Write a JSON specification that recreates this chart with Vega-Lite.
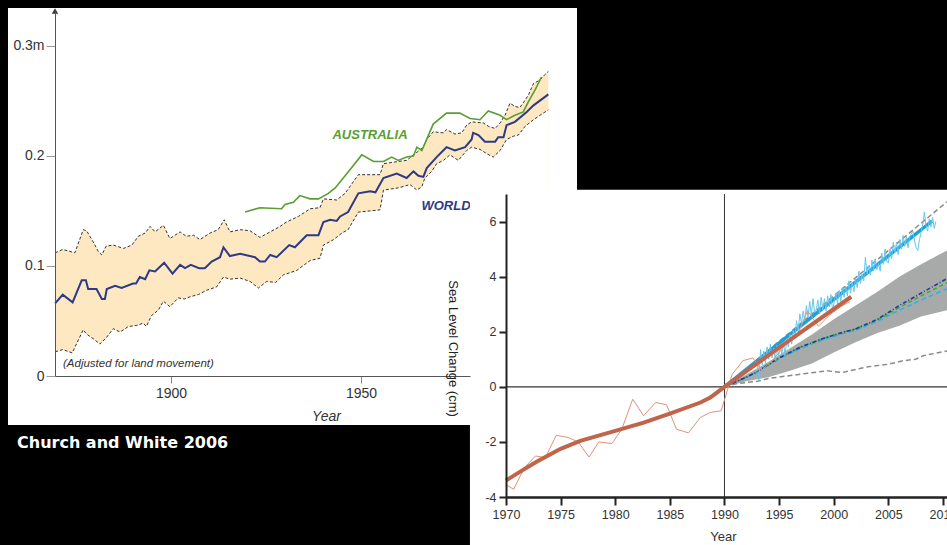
{
  "$schema": "https://vega.github.io/schema/vega-lite/v6.json",
  "width": 947,
  "height": 545,
  "autosize": "none",
  "padding": 0,
  "background": "#000000",
  "config": {"view": {"stroke": null}, "axis": {"zindex": 1, "grid": false, "labelFlush": false}},
  "title": {"text": "Church and White 2006", "orient": "bottom", "anchor": "start", "frame": "group", "offset": -101, "dx": 17, "baseline": "alphabetic", "color": "#ffffff", "font": "DejaVu Sans", "fontSize": 16, "fontWeight": "bold"},
  "resolve": {"scale": {"x": "independent", "y": "independent"}, "axis": {"x": "independent", "y": "independent"}},
  "datasets": {
    "world": [
      {"year": 1869.5, "value": 0.066}, {"year": 1871.5, "value": 0.074}, {"year": 1874.1, "value": 0.067}, {"year": 1876.5, "value": 0.087},
      {"year": 1877.6, "value": 0.087}, {"year": 1878.2, "value": 0.079}, {"year": 1880.4, "value": 0.079}, {"year": 1881.8, "value": 0.070},
      {"year": 1882.6, "value": 0.070}, {"year": 1883.1, "value": 0.079}, {"year": 1885.3, "value": 0.082}, {"year": 1887.0, "value": 0.080},
      {"year": 1890.0, "value": 0.084}, {"year": 1890.8, "value": 0.084}, {"year": 1891.8, "value": 0.090}, {"year": 1893.2, "value": 0.088},
      {"year": 1894.3, "value": 0.096}, {"year": 1895.8, "value": 0.095}, {"year": 1898.2, "value": 0.103}, {"year": 1900.4, "value": 0.093},
      {"year": 1902.4, "value": 0.101}, {"year": 1903.7, "value": 0.098}, {"year": 1905.2, "value": 0.101}, {"year": 1907.4, "value": 0.098},
      {"year": 1908.9, "value": 0.098}, {"year": 1910.7, "value": 0.104}, {"year": 1912.9, "value": 0.108}, {"year": 1913.8, "value": 0.117},
      {"year": 1915.5, "value": 0.109}, {"year": 1918.2, "value": 0.111}, {"year": 1922.1, "value": 0.108}, {"year": 1923.4, "value": 0.104},
      {"year": 1924.7, "value": 0.104}, {"year": 1926.1, "value": 0.110}, {"year": 1927.8, "value": 0.108}, {"year": 1931.1, "value": 0.119},
      {"year": 1932.6, "value": 0.117}, {"year": 1935.7, "value": 0.128}, {"year": 1938.8, "value": 0.128}, {"year": 1940.1, "value": 0.140},
      {"year": 1941.9, "value": 0.142}, {"year": 1943.6, "value": 0.141}, {"year": 1944.5, "value": 0.145}, {"year": 1946.6, "value": 0.149},
      {"year": 1949.3, "value": 0.166}, {"year": 1952.4, "value": 0.168}, {"year": 1953.8, "value": 0.167}, {"year": 1955.9, "value": 0.180},
      {"year": 1959.4, "value": 0.184}, {"year": 1962.0, "value": 0.180}, {"year": 1963.8, "value": 0.186}, {"year": 1965.1, "value": 0.182},
      {"year": 1966.4, "value": 0.181}, {"year": 1967.3, "value": 0.189}, {"year": 1969.9, "value": 0.199}, {"year": 1972.5, "value": 0.208},
      {"year": 1974.7, "value": 0.205}, {"year": 1977.4, "value": 0.208}, {"year": 1979.1, "value": 0.215}, {"year": 1979.5, "value": 0.221},
      {"year": 1980.9, "value": 0.219}, {"year": 1982.6, "value": 0.213}, {"year": 1985.3, "value": 0.213}, {"year": 1986.1, "value": 0.217},
      {"year": 1987.5, "value": 0.217}, {"year": 1988.3, "value": 0.228}, {"year": 1990.5, "value": 0.231}, {"year": 1993.6, "value": 0.240},
      {"year": 1995.4, "value": 0.246}, {"year": 1999.3, "value": 0.256}
    ],
    "australia": [
      {"year": 1919.5, "value": 0.149}, {"year": 1923.4, "value": 0.153}, {"year": 1929.1, "value": 0.152}, {"year": 1930.0, "value": 0.156},
      {"year": 1932.2, "value": 0.158}, {"year": 1933.9, "value": 0.164}, {"year": 1936.6, "value": 0.161}, {"year": 1938.8, "value": 0.161},
      {"year": 1941.4, "value": 0.166}, {"year": 1943.2, "value": 0.171}, {"year": 1946.3, "value": 0.184}, {"year": 1950.2, "value": 0.201},
      {"year": 1953.3, "value": 0.195}, {"year": 1955.9, "value": 0.195}, {"year": 1958.1, "value": 0.199}, {"year": 1959.8, "value": 0.196},
      {"year": 1962.0, "value": 0.199}, {"year": 1963.8, "value": 0.200}, {"year": 1964.7, "value": 0.208}, {"year": 1966.0, "value": 0.205},
      {"year": 1969.0, "value": 0.229}, {"year": 1972.5, "value": 0.239}, {"year": 1976.0, "value": 0.239}, {"year": 1978.7, "value": 0.234},
      {"year": 1981.3, "value": 0.233}, {"year": 1983.5, "value": 0.241}, {"year": 1986.6, "value": 0.237}, {"year": 1988.3, "value": 0.233},
      {"year": 1990.5, "value": 0.237}, {"year": 1992.7, "value": 0.240}, {"year": 1994.0, "value": 0.249}, {"year": 1995.8, "value": 0.260},
      {"year": 1997.5, "value": 0.272}
    ],
    "upper": [
      {"year": 1869.5, "value": 0.112}, {"year": 1871.5, "value": 0.115}, {"year": 1874.7, "value": 0.112}, {"year": 1876.9, "value": 0.133},
      {"year": 1877.8, "value": 0.132}, {"year": 1879.5, "value": 0.122}, {"year": 1880.9, "value": 0.113}, {"year": 1881.8, "value": 0.110},
      {"year": 1882.9, "value": 0.118}, {"year": 1884.8, "value": 0.119}, {"year": 1887.5, "value": 0.116}, {"year": 1889.7, "value": 0.119},
      {"year": 1891.4, "value": 0.127}, {"year": 1893.2, "value": 0.130}, {"year": 1894.5, "value": 0.136}, {"year": 1895.8, "value": 0.131},
      {"year": 1898.0, "value": 0.137}, {"year": 1899.7, "value": 0.125}, {"year": 1902.4, "value": 0.131}, {"year": 1904.0, "value": 0.127},
      {"year": 1905.9, "value": 0.128}, {"year": 1907.6, "value": 0.124}, {"year": 1910.3, "value": 0.130}, {"year": 1912.4, "value": 0.133},
      {"year": 1914.0, "value": 0.142}, {"year": 1915.5, "value": 0.131}, {"year": 1918.2, "value": 0.133}, {"year": 1920.8, "value": 0.132},
      {"year": 1923.4, "value": 0.126}, {"year": 1926.1, "value": 0.131}, {"year": 1928.7, "value": 0.136}, {"year": 1930.4, "value": 0.140},
      {"year": 1933.5, "value": 0.145}, {"year": 1936.6, "value": 0.152}, {"year": 1939.2, "value": 0.153}, {"year": 1940.1, "value": 0.161},
      {"year": 1943.6, "value": 0.160}, {"year": 1945.8, "value": 0.166}, {"year": 1949.3, "value": 0.183}, {"year": 1955.0, "value": 0.183},
      {"year": 1955.9, "value": 0.193}, {"year": 1959.8, "value": 0.195}, {"year": 1962.0, "value": 0.196}, {"year": 1964.2, "value": 0.202},
      {"year": 1966.4, "value": 0.208}, {"year": 1967.3, "value": 0.215}, {"year": 1969.0, "value": 0.222}, {"year": 1971.7, "value": 0.221},
      {"year": 1972.5, "value": 0.224}, {"year": 1974.7, "value": 0.220}, {"year": 1976.5, "value": 0.221}, {"year": 1977.8, "value": 0.228},
      {"year": 1979.1, "value": 0.231}, {"year": 1982.2, "value": 0.230}, {"year": 1983.5, "value": 0.227}, {"year": 1985.3, "value": 0.225},
      {"year": 1986.6, "value": 0.230}, {"year": 1987.9, "value": 0.237}, {"year": 1989.2, "value": 0.248}, {"year": 1990.5, "value": 0.245},
      {"year": 1991.8, "value": 0.244}, {"year": 1994.0, "value": 0.255}, {"year": 1995.4, "value": 0.266}, {"year": 1997.1, "value": 0.269},
      {"year": 1998.4, "value": 0.274}, {"year": 1999.3, "value": 0.277}
    ],
    "lower": [
      {"year": 1869.5, "value": 0.022}, {"year": 1871.5, "value": 0.024}, {"year": 1874.0, "value": 0.021}, {"year": 1876.9, "value": 0.042},
      {"year": 1877.8, "value": 0.038}, {"year": 1879.5, "value": 0.034}, {"year": 1881.3, "value": 0.029}, {"year": 1883.0, "value": 0.035},
      {"year": 1884.8, "value": 0.043}, {"year": 1886.6, "value": 0.040}, {"year": 1888.8, "value": 0.045}, {"year": 1891.0, "value": 0.046},
      {"year": 1892.7, "value": 0.048}, {"year": 1893.5, "value": 0.045}, {"year": 1894.9, "value": 0.055}, {"year": 1896.7, "value": 0.060},
      {"year": 1898.0, "value": 0.068}, {"year": 1899.7, "value": 0.063}, {"year": 1901.9, "value": 0.071}, {"year": 1903.5, "value": 0.070},
      {"year": 1905.0, "value": 0.072}, {"year": 1907.2, "value": 0.074}, {"year": 1909.4, "value": 0.078}, {"year": 1912.0, "value": 0.081},
      {"year": 1913.8, "value": 0.090}, {"year": 1915.5, "value": 0.088}, {"year": 1918.2, "value": 0.089}, {"year": 1920.8, "value": 0.086},
      {"year": 1923.0, "value": 0.080}, {"year": 1925.2, "value": 0.086}, {"year": 1927.5, "value": 0.085}, {"year": 1929.6, "value": 0.092},
      {"year": 1933.1, "value": 0.096}, {"year": 1936.6, "value": 0.105}, {"year": 1939.2, "value": 0.107}, {"year": 1940.1, "value": 0.119},
      {"year": 1942.8, "value": 0.124}, {"year": 1945.0, "value": 0.130}, {"year": 1946.6, "value": 0.133}, {"year": 1949.3, "value": 0.149},
      {"year": 1955.0, "value": 0.151}, {"year": 1955.9, "value": 0.169}, {"year": 1959.8, "value": 0.171}, {"year": 1962.9, "value": 0.174},
      {"year": 1964.7, "value": 0.169}, {"year": 1966.0, "value": 0.172}, {"year": 1966.8, "value": 0.180}, {"year": 1968.6, "value": 0.186},
      {"year": 1969.9, "value": 0.193}, {"year": 1971.7, "value": 0.196}, {"year": 1973.4, "value": 0.201}, {"year": 1975.6, "value": 0.196},
      {"year": 1977.8, "value": 0.205}, {"year": 1979.1, "value": 0.208}, {"year": 1981.3, "value": 0.206}, {"year": 1983.1, "value": 0.202},
      {"year": 1984.8, "value": 0.199}, {"year": 1986.6, "value": 0.205}, {"year": 1988.3, "value": 0.215}, {"year": 1990.1, "value": 0.218},
      {"year": 1991.4, "value": 0.219}, {"year": 1993.2, "value": 0.227}, {"year": 1995.4, "value": 0.233}, {"year": 1997.1, "value": 0.237},
      {"year": 1999.3, "value": 0.242}
    ],
    "tideThin": [
      {"year": 1970.0, "cm": -3.55}, {"year": 1970.7, "cm": -3.72}, {"year": 1971.7, "cm": -2.93}, {"year": 1972.7, "cm": -2.51},
      {"year": 1973.6, "cm": -2.57}, {"year": 1974.6, "cm": -1.76}, {"year": 1975.7, "cm": -1.84}, {"year": 1976.6, "cm": -2.0},
      {"year": 1977.6, "cm": -2.55}, {"year": 1978.5, "cm": -2.0}, {"year": 1979.7, "cm": -2.06}, {"year": 1980.6, "cm": -1.54},
      {"year": 1981.6, "cm": -0.45}, {"year": 1982.6, "cm": -1.05}, {"year": 1983.7, "cm": -0.57}, {"year": 1984.7, "cm": -0.65},
      {"year": 1985.6, "cm": -1.54}, {"year": 1986.7, "cm": -1.67}, {"year": 1987.8, "cm": -1.11}, {"year": 1988.7, "cm": -0.93},
      {"year": 1989.7, "cm": -0.87}, {"year": 1990.7, "cm": 0.45}, {"year": 1991.7, "cm": 0.95}, {"year": 1992.6, "cm": 1.05},
      {"year": 1993.4, "cm": 0.6}, {"year": 1994.5, "cm": 1.0}, {"year": 1995.6, "cm": 1.55}, {"year": 1996.7, "cm": 1.9},
      {"year": 1997.6, "cm": 2.76}, {"year": 1998.6, "cm": 2.2}, {"year": 1999.6, "cm": 2.6}, {"year": 2000.6, "cm": 2.9},
      {"year": 2001.5, "cm": 3.1}
    ],
    "tideTrend": [
      {"year": 1970.0, "cm": -3.4}, {"year": 1971.3, "cm": -3.08}, {"year": 1972.8, "cm": -2.72}, {"year": 1975.0, "cm": -2.25},
      {"year": 1976.8, "cm": -1.96}, {"year": 1980.0, "cm": -1.6}, {"year": 1982.6, "cm": -1.3}, {"year": 1985.0, "cm": -0.97},
      {"year": 1987.8, "cm": -0.57}, {"year": 1988.7, "cm": -0.39}, {"year": 1990.0, "cm": 0.0}, {"year": 1995.0, "cm": 1.42},
      {"year": 2001.6, "cm": 3.27}
    ],
    "satTrend": [{"year": 1990.0, "cm": 0.0}, {"year": 2009.0, "cm": 6.02}],
    "satThin": [
      {"year": 1993.0, "cm": 0.9}, {"year": 1993.15, "cm": 0.2}, {"year": 1993.3, "cm": 1.35}, {"year": 1993.45, "cm": 0.8},
      {"year": 1993.6, "cm": 1.3}, {"year": 1993.75, "cm": 0.85}, {"year": 1993.9, "cm": 1.45}, {"year": 1994.05, "cm": 1.0},
      {"year": 1994.2, "cm": 1.55}, {"year": 1994.35, "cm": 1.05}, {"year": 1994.5, "cm": 1.4}, {"year": 1994.65, "cm": 0.95},
      {"year": 1994.8, "cm": 1.5}, {"year": 1994.95, "cm": 1.1}, {"year": 1995.1, "cm": 1.55}, {"year": 1995.25, "cm": 1.15},
      {"year": 1995.4, "cm": 1.6}, {"year": 1995.55, "cm": 1.15}, {"year": 1995.7, "cm": 1.7}, {"year": 1995.85, "cm": 1.45},
      {"year": 1996.0, "cm": 1.9}, {"year": 1996.15, "cm": 1.55}, {"year": 1996.3, "cm": 2.05}, {"year": 1996.45, "cm": 1.75},
      {"year": 1996.6, "cm": 2.4}, {"year": 1996.75, "cm": 2.0}, {"year": 1996.9, "cm": 2.65}, {"year": 1997.05, "cm": 2.3},
      {"year": 1997.2, "cm": 2.75}, {"year": 1997.35, "cm": 2.4}, {"year": 1997.5, "cm": 2.95}, {"year": 1997.65, "cm": 2.5},
      {"year": 1997.8, "cm": 3.1}, {"year": 1997.95, "cm": 2.6}, {"year": 1998.1, "cm": 3.2}, {"year": 1998.25, "cm": 2.7},
      {"year": 1998.4, "cm": 2.8}, {"year": 1998.55, "cm": 3.15}, {"year": 1998.7, "cm": 2.65}, {"year": 1998.85, "cm": 3.25},
      {"year": 1999.0, "cm": 2.8}, {"year": 1999.15, "cm": 3.2}, {"year": 1999.3, "cm": 2.75}, {"year": 1999.45, "cm": 3.3},
      {"year": 1999.6, "cm": 2.9}, {"year": 1999.75, "cm": 3.35}, {"year": 1999.9, "cm": 2.75}, {"year": 2000.05, "cm": 3.1},
      {"year": 2000.2, "cm": 3.4}, {"year": 2000.35, "cm": 3.0}, {"year": 2000.5, "cm": 3.5}, {"year": 2000.65, "cm": 3.1},
      {"year": 2000.8, "cm": 3.6}, {"year": 2000.95, "cm": 3.25}, {"year": 2001.1, "cm": 3.65}, {"year": 2001.25, "cm": 3.3},
      {"year": 2001.4, "cm": 3.85}, {"year": 2001.55, "cm": 3.4}, {"year": 2001.7, "cm": 3.8}, {"year": 2001.85, "cm": 3.45},
      {"year": 2002.0, "cm": 3.95}, {"year": 2002.15, "cm": 3.6}, {"year": 2002.3, "cm": 4.2}, {"year": 2002.45, "cm": 3.75},
      {"year": 2002.6, "cm": 4.1}, {"year": 2002.75, "cm": 3.85}, {"year": 2002.9, "cm": 4.7}, {"year": 2003.05, "cm": 4.1},
      {"year": 2003.2, "cm": 4.4}, {"year": 2003.35, "cm": 4.05}, {"year": 2003.5, "cm": 4.6}, {"year": 2003.65, "cm": 4.2},
      {"year": 2003.8, "cm": 4.65}, {"year": 2003.95, "cm": 4.25}, {"year": 2004.1, "cm": 4.5}, {"year": 2004.25, "cm": 4.2},
      {"year": 2004.4, "cm": 4.85}, {"year": 2004.55, "cm": 4.45}, {"year": 2004.7, "cm": 5.0}, {"year": 2004.85, "cm": 4.55},
      {"year": 2005.0, "cm": 4.5}, {"year": 2005.15, "cm": 5.0}, {"year": 2005.3, "cm": 4.65}, {"year": 2005.45, "cm": 5.25},
      {"year": 2005.6, "cm": 4.85}, {"year": 2005.75, "cm": 5.25}, {"year": 2005.9, "cm": 4.8}, {"year": 2006.05, "cm": 5.35},
      {"year": 2006.2, "cm": 5.0}, {"year": 2006.35, "cm": 5.5}, {"year": 2006.5, "cm": 5.1}, {"year": 2006.65, "cm": 5.45},
      {"year": 2006.8, "cm": 5.05}, {"year": 2006.95, "cm": 5.45}, {"year": 2007.1, "cm": 5.55}, {"year": 2007.25, "cm": 5.65},
      {"year": 2007.4, "cm": 5.3}, {"year": 2007.55, "cm": 5.05}, {"year": 2007.7, "cm": 4.95}, {"year": 2007.85, "cm": 5.35},
      {"year": 2008.0, "cm": 5.6}, {"year": 2008.15, "cm": 5.9}, {"year": 2008.3, "cm": 6.35}, {"year": 2008.45, "cm": 5.85},
      {"year": 2008.6, "cm": 5.65}, {"year": 2008.75, "cm": 6.1}, {"year": 2008.9, "cm": 5.8}, {"year": 2009.05, "cm": 6.15},
      {"year": 2009.2, "cm": 5.75}, {"year": 2009.35, "cm": 6.0}
    ],
    "ipccBand": [
      {"year": 1990.0, "lo": 0.0, "hi": 0.0}, {"year": 1992.0, "lo": 0.2, "hi": 0.45}, {"year": 1994.0, "lo": 0.35, "hi": 0.9},
      {"year": 1996.0, "lo": 0.58, "hi": 1.4}, {"year": 1998.0, "lo": 0.85, "hi": 1.9}, {"year": 2000.0, "lo": 1.25, "hi": 2.45},
      {"year": 2002.0, "lo": 1.62, "hi": 2.95}, {"year": 2004.0, "lo": 1.95, "hi": 3.45}, {"year": 2006.0, "lo": 2.22, "hi": 4.0},
      {"year": 2008.0, "lo": 2.55, "hi": 4.45}, {"year": 2010.37, "lo": 2.78, "hi": 4.95}
    ],
    "modelBlue": [
      {"year": 1990.0, "cm": 0.0}, {"year": 1992.0, "cm": 0.35}, {"year": 1993.0, "cm": 0.55}, {"year": 1995.0, "cm": 1.05},
      {"year": 1997.0, "cm": 1.45}, {"year": 1999.0, "cm": 1.75}, {"year": 2001.0, "cm": 2.0}, {"year": 2002.0, "cm": 2.1},
      {"year": 2004.0, "cm": 2.45}, {"year": 2006.0, "cm": 2.95}, {"year": 2008.0, "cm": 3.4}, {"year": 2010.37, "cm": 3.93}
    ],
    "modelGreen": [
      {"year": 1990.0, "cm": 0.0}, {"year": 1992.0, "cm": 0.35}, {"year": 1993.0, "cm": 0.55}, {"year": 1995.0, "cm": 1.05},
      {"year": 1997.0, "cm": 1.45}, {"year": 1999.0, "cm": 1.75}, {"year": 2001.0, "cm": 2.0}, {"year": 2002.0, "cm": 2.1},
      {"year": 2004.0, "cm": 2.43}, {"year": 2006.0, "cm": 2.88}, {"year": 2008.0, "cm": 3.3}, {"year": 2010.37, "cm": 3.78}
    ],
    "modelCyan": [
      {"year": 1990.0, "cm": 0.0}, {"year": 1992.0, "cm": 0.34}, {"year": 1993.0, "cm": 0.53}, {"year": 1995.0, "cm": 1.02},
      {"year": 1997.0, "cm": 1.4}, {"year": 1999.0, "cm": 1.7}, {"year": 2001.0, "cm": 1.95}, {"year": 2002.0, "cm": 2.05},
      {"year": 2004.0, "cm": 2.38}, {"year": 2006.0, "cm": 2.78}, {"year": 2008.0, "cm": 3.15}, {"year": 2010.37, "cm": 3.56}
    ],
    "dashLow": [
      {"year": 1990.0, "cm": 0.0}, {"year": 1991.2, "cm": 0.12}, {"year": 1993.0, "cm": 0.2}, {"year": 1994.0, "cm": 0.3},
      {"year": 1997.0, "cm": 0.46}, {"year": 1999.4, "cm": 0.58}, {"year": 2000.8, "cm": 0.52}, {"year": 2003.0, "cm": 0.72},
      {"year": 2005.0, "cm": 0.82}, {"year": 2006.4, "cm": 0.95}, {"year": 2007.5, "cm": 1.0}, {"year": 2008.2, "cm": 1.13},
      {"year": 2010.37, "cm": 1.3}
    ],
    "dashHigh": [{"year": 1990.0, "cm": 0.0}, {"year": 2010.37, "cm": 6.72}]
  },
  "layer": [
    {
      "layer": [
        {
          "data": {"values": [{}]},
          "mark": {"type": "rect", "fill": "#ffffff"},
          "encoding": {
            "x": {"datum": 1857.1, "type": "quantitative", "scale": {"domain": [1869.47, 1978.68], "range": [55, 470], "nice": false, "zero": false},
              "axis": {"orient": "bottom", "offset": -169, "values": [1900, 1950], "format": "d", "title": "Year", "domainColor": "#555555", "domainWidth": 1, "tickColor": "#888888", "tickSize": 7, "tickWidth": 1, "labelFont": "Liberation Sans", "labelFontSize": 14, "labelColor": "#333333", "labelPadding": 3, "labelFlush": false, "titleFont": "Liberation Sans", "titleFontSize": 14, "titleFontStyle": "italic", "titleFontWeight": "normal", "titleColor": "#333333", "titleX": 326, "titleY": 40, "titleBaseline": "middle", "titleAlign": "center", "zindex": 1}},
            "x2": {"datum": 2006.84},
            "y": {"datum": 0.3345, "type": "quantitative", "scale": {"domain": [0, 0.3327], "range": [376, 10], "nice": false, "zero": false},
              "axis": {"orient": "left", "offset": -55, "values": [0, 0.1, 0.2, 0.3], "labelExpr": "datum.value == 0 ? '0' : (datum.value > 0.25 ? '0.3m' : format(datum.value, '.1f'))", "title": null, "domainColor": "#555555", "domainWidth": 1, "tickColor": "#999999", "tickSize": 9, "labelFont": "Liberation Sans", "labelFontSize": 14, "labelColor": "#333333", "labelPadding": 2, "zindex": 1}},
            "y2": {"datum": -0.0445}
          }
        },
        {
          "data": {"name": "upper"},
          "mark": {"type": "area", "color": "#fde8c2", "opacity": 1},
          "encoding": {"x": {"field": "year", "type": "quantitative"}, "y": {"field": "value", "type": "quantitative"}, "y2": {"datum": 0}}
        },
        {
          "data": {"name": "lower"},
          "mark": {"type": "area", "color": "#ffffff", "opacity": 1},
          "encoding": {"x": {"field": "year", "type": "quantitative"}, "y": {"field": "value", "type": "quantitative"}, "y2": {"datum": 0}}
        },
        {
          "data": {"name": "upper"},
          "mark": {"type": "line", "color": "#333333", "strokeWidth": 1, "strokeDash": [3, 2]},
          "encoding": {"x": {"field": "year", "type": "quantitative"}, "y": {"field": "value", "type": "quantitative"}}
        },
        {
          "data": {"name": "lower"},
          "mark": {"type": "line", "color": "#333333", "strokeWidth": 1, "strokeDash": [3, 2]},
          "encoding": {"x": {"field": "year", "type": "quantitative"}, "y": {"field": "value", "type": "quantitative"}}
        },
        {
          "data": {"name": "australia"},
          "mark": {"type": "line", "color": "#5a9e2f", "strokeWidth": 1.6},
          "encoding": {"x": {"field": "year", "type": "quantitative"}, "y": {"field": "value", "type": "quantitative"}}
        },
        {
          "data": {"name": "world"},
          "mark": {"type": "line", "color": "#2d3a85", "strokeWidth": 2},
          "encoding": {"x": {"field": "year", "type": "quantitative"}, "y": {"field": "value", "type": "quantitative"}}
        },
        {
          "data": {"values": [{}]},
          "mark": {"type": "text", "text": "AUSTRALIA", "color": "#5a9e2f", "font": "Liberation Sans", "fontSize": 13, "fontWeight": "bold", "fontStyle": "italic", "align": "center", "baseline": "middle"},
          "encoding": {"x": {"datum": 1952.36, "type": "quantitative"}, "y": {"datum": 0.2191, "type": "quantitative"}}
        },
        {
          "data": {"values": [{}]},
          "mark": {"type": "text", "text": "WORLD", "color": "#2d3a85", "font": "Liberation Sans", "fontSize": 13, "fontWeight": "bold", "fontStyle": "italic", "align": "center", "baseline": "middle"},
          "encoding": {"x": {"datum": 1972.36, "type": "quantitative"}, "y": {"datum": 0.1545, "type": "quantitative"}}
        },
        {
          "data": {"values": [{}]},
          "mark": {"type": "text", "text": "(Adjusted for land movement)", "color": "#333333", "font": "Liberation Sans", "fontSize": 11.5, "fontStyle": "italic", "align": "left", "baseline": "middle"},
          "encoding": {"x": {"datum": 1871.58, "type": "quantitative"}, "y": {"datum": 0.0109, "type": "quantitative"}}
        },
        {
          "data": {"values": [{}]},
          "mark": {"type": "point", "shape": "triangle-up", "filled": true, "color": "#333333", "size": 40, "opacity": 1},
          "encoding": {"x": {"datum": 1869.47, "type": "quantitative"}, "y": {"datum": 0.3318, "type": "quantitative"}}
        }
      ]
    },
    {
      "layer": [
        {
          "data": {"values": [{}]},
          "mark": {"type": "rect", "fill": "#ffffff"},
          "encoding": {
            "x": {"datum": 1966.7, "type": "quantitative", "scale": {"domain": [1970, 2010.37], "range": [506, 947], "nice": false, "zero": false},
              "axis": {"orient": "bottom", "offset": -48, "values": [1970, 1975, 1980, 1985, 1990, 1995, 2000, 2005, 2010], "format": "d", "title": "Year", "domainColor": "#222222", "domainWidth": 2.5, "tickColor": "#222222", "tickWidth": 2, "tickSize": 8, "labelFont": "Liberation Sans Narrow, Liberation Sans", "labelFontSize": 12.5, "labelColor": "#333333", "labelPadding": 3, "labelFlush": false, "labelOverlap": false, "titleFont": "Liberation Sans Narrow, Liberation Sans", "titleFontSize": 13, "titleFontWeight": "normal", "titleColor": "#333333", "titleX": 723, "titleY": 39, "titleBaseline": "middle", "titleAlign": "center", "zindex": 1}},
            "x2": {"datum": 2012.5},
            "y": {"datum": 7.15, "type": "quantitative", "scale": {"domain": [-4, 7], "range": [497, 194], "nice": false, "zero": false},
              "axis": {"orient": "left", "offset": -506, "values": [-4, -2, 0, 2, 4, 6], "labelExpr": "'' + datum.value", "title": "Sea Level Change (cm)", "domainColor": "#222222", "domainWidth": 2, "tickColor": "#222222", "tickWidth": 2, "tickSize": 7, "labelFont": "Liberation Sans Narrow, Liberation Sans", "labelFontSize": 12.5, "labelColor": "#333333", "labelPadding": 3, "titleFont": "Liberation Sans", "titleFontSize": 13, "titleFontWeight": "normal", "titleColor": "#222222", "titleAngle": 90, "titleX": -54, "titleY": 348, "titleAlign": "center", "titleBaseline": "middle", "zindex": 1}},
            "y2": {"datum": -5.9}
          }
        },
        {
          "data": {"name": "ipccBand"},
          "mark": {"type": "area", "color": "#a8aaaa", "opacity": 1},
          "encoding": {"x": {"field": "year", "type": "quantitative"}, "y": {"field": "hi", "type": "quantitative"}, "y2": {"field": "lo"}}
        },
        {
          "data": {"values": [{}]},
          "mark": {"type": "rule", "color": "#333333", "strokeWidth": 1.2},
          "encoding": {"x": {"datum": 1970, "type": "quantitative"}, "x2": {"datum": 2010.37}, "y": {"datum": 0, "type": "quantitative"}}
        },
        {
          "data": {"values": [{}]},
          "mark": {"type": "rule", "color": "#333333", "strokeWidth": 1},
          "encoding": {"x": {"datum": 1990, "type": "quantitative"}, "y": {"datum": -4, "type": "quantitative"}, "y2": {"datum": 7}}
        },
        {
          "data": {"name": "dashLow"},
          "mark": {"type": "line", "color": "#8a8a8a", "strokeWidth": 1.5, "strokeDash": [5, 3]},
          "encoding": {"x": {"field": "year", "type": "quantitative"}, "y": {"field": "cm", "type": "quantitative"}}
        },
        {
          "data": {"name": "modelCyan"},
          "mark": {"type": "line", "color": "#2fb0e6", "strokeWidth": 1.5, "strokeDash": [5, 3]},
          "encoding": {"x": {"field": "year", "type": "quantitative"}, "y": {"field": "cm", "type": "quantitative"}}
        },
        {
          "data": {"name": "modelGreen"},
          "mark": {"type": "line", "color": "#3daa3d", "strokeWidth": 1.5, "strokeDash": [4, 3]},
          "encoding": {"x": {"field": "year", "type": "quantitative"}, "y": {"field": "cm", "type": "quantitative"}}
        },
        {
          "data": {"name": "modelBlue"},
          "mark": {"type": "line", "color": "#1f3d8f", "strokeWidth": 1.6, "strokeDash": [4, 2, 1, 2]},
          "encoding": {"x": {"field": "year", "type": "quantitative"}, "y": {"field": "cm", "type": "quantitative"}}
        },
        {
          "data": {"name": "dashHigh"},
          "mark": {"type": "line", "color": "#8a8a8a", "strokeWidth": 1.5, "strokeDash": [5, 3]},
          "encoding": {"x": {"field": "year", "type": "quantitative"}, "y": {"field": "cm", "type": "quantitative"}}
        },
        {
          "data": {"name": "satTrend"},
          "mark": {"type": "line", "color": "#1ba0d8", "strokeWidth": 3.5},
          "encoding": {"x": {"field": "year", "type": "quantitative"}, "y": {"field": "cm", "type": "quantitative"}}
        },
        {
          "data": {"name": "satThin"},
          "mark": {"type": "line", "color": "#66c6ec", "strokeWidth": 1},
          "encoding": {"x": {"field": "year", "type": "quantitative"}, "y": {"field": "cm", "type": "quantitative"}}
        },
        {
          "data": {"name": "tideThin"},
          "mark": {"type": "line", "color": "#de937a", "strokeWidth": 1},
          "encoding": {"x": {"field": "year", "type": "quantitative"}, "y": {"field": "cm", "type": "quantitative"}}
        },
        {
          "data": {"name": "tideTrend"},
          "mark": {"type": "line", "color": "#c0644a", "strokeWidth": 4},
          "encoding": {"x": {"field": "year", "type": "quantitative"}, "y": {"field": "cm", "type": "quantitative"}}
        }
      ]
    }
  ]
}
